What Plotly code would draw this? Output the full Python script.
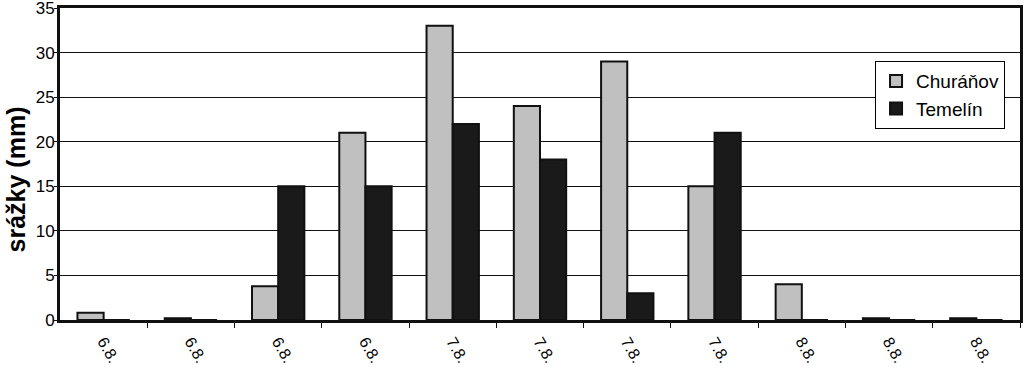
import plotly.graph_objects as go

labels = ["6.8.", "6.8.", "6.8.", "6.8.", "7.8.", "7.8.", "7.8.", "7.8.", "8.8.", "8.8.", "8.8."]
churanov = [0.8, 0.2, 3.8, 21, 33, 24, 29, 15, 4, 0.2, 0.2]
temelin = [0, 0, 15, 15, 22, 18, 3, 21, 0, 0, 0]
y_ticks = [0, 5, 10, 15, 20, 25, 30, 35]

idx = list(range(len(labels)))
font = "Liberation Sans, Arial, Helvetica, sans-serif"

fig = go.Figure()
fig.add_trace(go.Bar(x=idx, y=churanov, name="Churáňov",
                     marker=dict(color="#c0c0c0", line=dict(color="#111111", width=2))))
fig.add_trace(go.Bar(x=idx, y=temelin, name="Temelín",
                     marker=dict(color="#1a1a1a", line=dict(color="#111111", width=2))))

fig.update_layout(
    width=1024, height=370,
    margin=dict(l=60, r=4, t=8, b=50),
    paper_bgcolor="white", plot_bgcolor="white",
    barmode="group", bargap=0.4, bargroupgap=0,
    font=dict(family=font, color="black", size=17),
    showlegend=True,
    legend=dict(x=0.849, y=0.83, xanchor="left", yanchor="top",
                bordercolor="black", borderwidth=1, bgcolor="white",
                font=dict(size=19), itemwidth=30,
                tracegroupgap=0),
    annotations=[dict(text="<b>srážky (mm)</b>", textangle=-90,
                      xref="paper", yref="paper", x=-0.046, y=0.45,
                      xanchor="center", yanchor="middle", showarrow=False,
                      font=dict(size=25, family=font, color="black"))],
)
fig.update_xaxes(
    range=[-0.5, len(labels) - 0.5],
    tickmode="array", tickvals=idx, ticktext=labels, tickangle=60,
    ticks="", showgrid=False, automargin=False,
    showline=True, linecolor="#111111", linewidth=3, mirror=True,
    tickfont=dict(size=16), ticklabelstandoff=3,
    minor=dict(tickvals=[i + 0.5 for i in idx], ticks="outside", ticklen=5,
               tickcolor="#111111", tickwidth=1, showgrid=False),
)
fig.update_yaxes(
    range=[0, 35], tickvals=y_ticks, ticks="outside", ticklen=3,
    tickcolor="#111111", showgrid=True, gridcolor="#111111", gridwidth=1,
    showline=True, linecolor="#111111", linewidth=3, mirror=True,
    zeroline=False, automargin=False, tickfont=dict(size=17),
    ticklabelstandoff=-4, ticklabeloverflow="allow",
)
fig.write_html("out.html", config={"displayModeBar": False},
               post_script="document.body.style.margin='0';document.body.style.padding='0';")
